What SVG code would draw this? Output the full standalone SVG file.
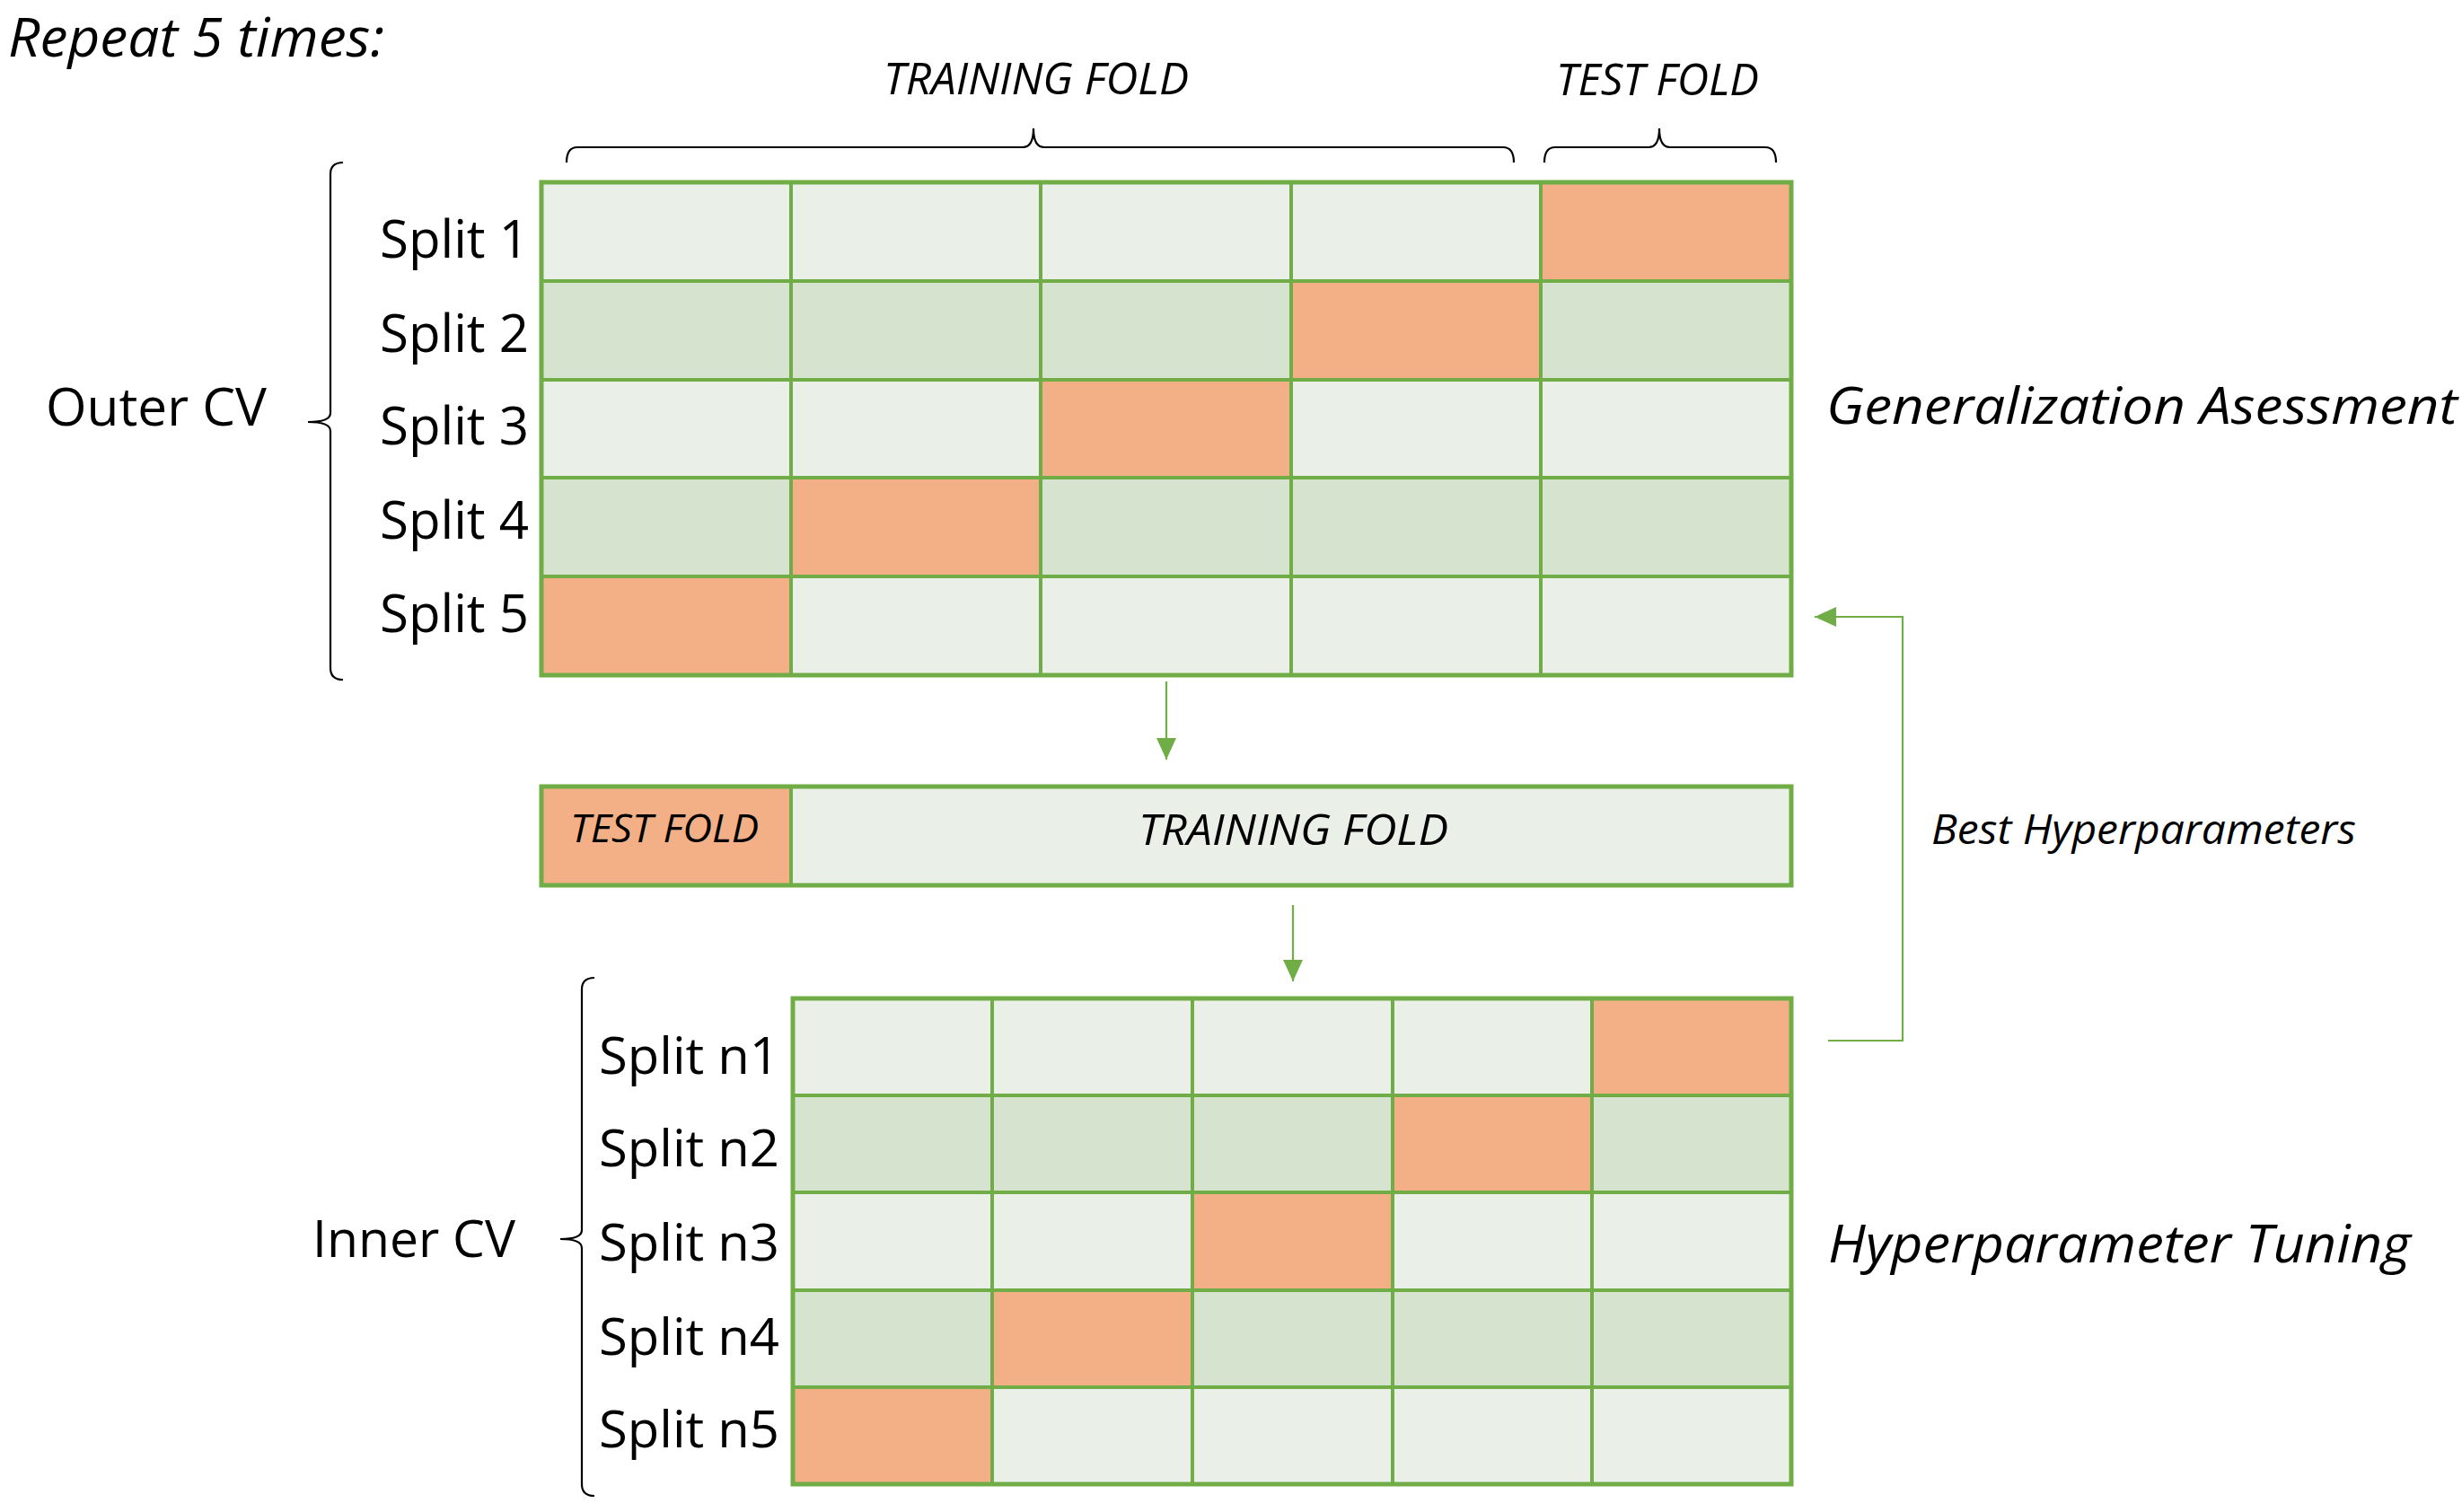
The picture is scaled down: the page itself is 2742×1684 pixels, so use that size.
<svg xmlns="http://www.w3.org/2000/svg" width="2742" height="1684" viewBox="0 0 2742 1684">
<style>
.lt{fill:#EAEFE7;stroke:#70AD47;stroke-width:4}
.dk{fill:#D6E3CF;stroke:#70AD47;stroke-width:4}
.or{fill:#F3B086;stroke:#70AD47;stroke-width:4}
.frame{fill:none;stroke:#70AD47;stroke-width:5}
.brace{fill:none;stroke:#000;stroke-width:2.2}
.conn{fill:none;stroke:#70AD47;stroke-width:2.2}
.t{font-family:'Open Sans','Liberation Sans',sans-serif;fill:#000}
.i{font-style:italic}
</style>
<defs>
<marker id="ah" markerUnits="userSpaceOnUse" markerWidth="26" markerHeight="24" refX="24" refY="11" orient="auto">
<path d="M0,0 L24,11 L0,22 Z" fill="#70AD47"/>
</marker>
</defs>
<rect width="2742" height="1684" fill="#fff"/>

<g id="title">
<text class="t i" x="9" y="63" font-size="60" textLength="419" lengthAdjust="spacingAndGlyphs">Repeat 5 times:</text>
</g>

<g id="top-braces">
<path class="brace" d="M631,181 Q631,164 643,164 L1139,164 Q1151,164 1151,143 Q1151,164 1163,164 L1674,164 Q1686,164 1686,181"/>
<path class="brace" d="M1720,181 Q1720,164 1732,164 L1836,164 Q1848,164 1848,143 Q1848,164 1860,164 L1966,164 Q1978,164 1978,181"/>
<text class="t i" x="984" y="105" font-size="49" textLength="340" lengthAdjust="spacingAndGlyphs">TRAINING FOLD</text>
<text class="t i" x="1733" y="106" font-size="49" textLength="226" lengthAdjust="spacingAndGlyphs">TEST FOLD</text>
</g>

<g id="outer-cv-label">
<path class="brace" d="M382,181 Q368,181 368,194 L368,460 Q368,470 343,470 Q368,470 368,480 L368,744 Q368,757 382,757"/>
<text class="t" x="51" y="474" font-size="59" textLength="246" lengthAdjust="spacingAndGlyphs">Outer CV</text>
<text class="t" x="423" y="287" font-size="59" textLength="166" lengthAdjust="spacingAndGlyphs">Split 1</text>
<text class="t" x="423" y="392" font-size="59" textLength="166" lengthAdjust="spacingAndGlyphs">Split 2</text>
<text class="t" x="423" y="495" font-size="59" textLength="166" lengthAdjust="spacingAndGlyphs">Split 3</text>
<text class="t" x="423" y="600" font-size="59" textLength="166" lengthAdjust="spacingAndGlyphs">Split 4</text>
<text class="t" x="423" y="704" font-size="59" textLength="166" lengthAdjust="spacingAndGlyphs">Split 5</text>
</g>

<g id="outer-grid">
<rect class="lt" x="603" y="203" width="278" height="110"/>
<rect class="lt" x="881" y="203" width="278" height="110"/>
<rect class="lt" x="1159" y="203" width="279" height="110"/>
<rect class="lt" x="1438" y="203" width="278" height="110"/>
<rect class="or" x="1716" y="203" width="279" height="110"/>

<rect class="dk" x="603" y="313" width="278" height="110"/>
<rect class="dk" x="881" y="313" width="278" height="110"/>
<rect class="dk" x="1159" y="313" width="279" height="110"/>
<rect class="or" x="1438" y="313" width="278" height="110"/>
<rect class="dk" x="1716" y="313" width="279" height="110"/>

<rect class="lt" x="603" y="423" width="278" height="109"/>
<rect class="lt" x="881" y="423" width="278" height="109"/>
<rect class="or" x="1159" y="423" width="279" height="109"/>
<rect class="lt" x="1438" y="423" width="278" height="109"/>
<rect class="lt" x="1716" y="423" width="279" height="109"/>

<rect class="dk" x="603" y="532" width="278" height="110"/>
<rect class="or" x="881" y="532" width="278" height="110"/>
<rect class="dk" x="1159" y="532" width="279" height="110"/>
<rect class="dk" x="1438" y="532" width="278" height="110"/>
<rect class="dk" x="1716" y="532" width="279" height="110"/>

<rect class="or" x="603" y="642" width="278" height="110"/>
<rect class="lt" x="881" y="642" width="278" height="110"/>
<rect class="lt" x="1159" y="642" width="279" height="110"/>
<rect class="lt" x="1438" y="642" width="278" height="110"/>
<rect class="lt" x="1716" y="642" width="279" height="110"/>
<rect class="frame" x="603" y="203" width="1392" height="549"/>
</g>

<g id="generalization-label">
<text class="t i" x="2034" y="472" font-size="57" textLength="703" lengthAdjust="spacingAndGlyphs">Generalization Asessment</text>
</g>

<g id="fold-bar">
<rect class="or" x="603" y="876" width="278" height="110"/>
<rect class="lt" x="881" y="876" width="1114" height="110"/>
<rect class="frame" x="603" y="876" width="1392" height="110"/>
<text class="t i" x="635" y="938" font-size="44" textLength="210" lengthAdjust="spacingAndGlyphs">TEST FOLD</text>
<text class="t i" x="1268" y="941" font-size="47" textLength="345" lengthAdjust="spacingAndGlyphs">TRAINING FOLD</text>
</g>

<g id="best-hyperparameters-label">
<text class="t i" x="2151" y="940" font-size="45" textLength="473" lengthAdjust="spacingAndGlyphs">Best Hyperparameters</text>
</g>

<g id="inner-cv-label">
<path class="brace" d="M662,1089 Q648,1089 648,1102 L648,1370 Q648,1380 624,1380 Q648,1380 648,1390 L648,1653 Q648,1666 662,1666"/>
<text class="t" x="348" y="1400" font-size="57" textLength="226" lengthAdjust="spacingAndGlyphs">Inner CV</text>
<text class="t" x="667" y="1196" font-size="57" textLength="201" lengthAdjust="spacingAndGlyphs">Split n1</text>
<text class="t" x="667" y="1299" font-size="57" textLength="201" lengthAdjust="spacingAndGlyphs">Split n2</text>
<text class="t" x="667" y="1404" font-size="57" textLength="201" lengthAdjust="spacingAndGlyphs">Split n3</text>
<text class="t" x="667" y="1509" font-size="57" textLength="201" lengthAdjust="spacingAndGlyphs">Split n4</text>
<text class="t" x="667" y="1612" font-size="57" textLength="201" lengthAdjust="spacingAndGlyphs">Split n5</text>
</g>

<g id="inner-grid">
<rect class="lt" x="883" y="1112" width="222" height="108"/>
<rect class="lt" x="1105" y="1112" width="223" height="108"/>
<rect class="lt" x="1328" y="1112" width="223" height="108"/>
<rect class="lt" x="1551" y="1112" width="222" height="108"/>
<rect class="or" x="1773" y="1112" width="222" height="108"/>

<rect class="dk" x="883" y="1220" width="222" height="108"/>
<rect class="dk" x="1105" y="1220" width="223" height="108"/>
<rect class="dk" x="1328" y="1220" width="223" height="108"/>
<rect class="or" x="1551" y="1220" width="222" height="108"/>
<rect class="dk" x="1773" y="1220" width="222" height="108"/>

<rect class="lt" x="883" y="1328" width="222" height="109"/>
<rect class="lt" x="1105" y="1328" width="223" height="109"/>
<rect class="or" x="1328" y="1328" width="223" height="109"/>
<rect class="lt" x="1551" y="1328" width="222" height="109"/>
<rect class="lt" x="1773" y="1328" width="222" height="109"/>

<rect class="dk" x="883" y="1437" width="222" height="108"/>
<rect class="or" x="1105" y="1437" width="223" height="108"/>
<rect class="dk" x="1328" y="1437" width="223" height="108"/>
<rect class="dk" x="1551" y="1437" width="222" height="108"/>
<rect class="dk" x="1773" y="1437" width="222" height="108"/>

<rect class="or" x="883" y="1545" width="222" height="108"/>
<rect class="lt" x="1105" y="1545" width="223" height="108"/>
<rect class="lt" x="1328" y="1545" width="223" height="108"/>
<rect class="lt" x="1551" y="1545" width="222" height="108"/>
<rect class="lt" x="1773" y="1545" width="222" height="108"/>
<rect class="frame" x="883" y="1112" width="1112" height="541"/>
</g>

<g id="tuning-label">
<text class="t i" x="2036" y="1406" font-size="59" textLength="649" lengthAdjust="spacingAndGlyphs">Hyperparameter Tuning</text>
</g>

<g id="connectors">
<path class="conn" d="M1299,759 L1299,846" marker-end="url(#ah)"/>
<path class="conn" d="M1440,1008 L1440,1093" marker-end="url(#ah)"/>
<path class="conn" d="M2036,1159 L2119,1159 L2119,687 L2021,687" marker-end="url(#ah)"/>
</g>
</svg>
